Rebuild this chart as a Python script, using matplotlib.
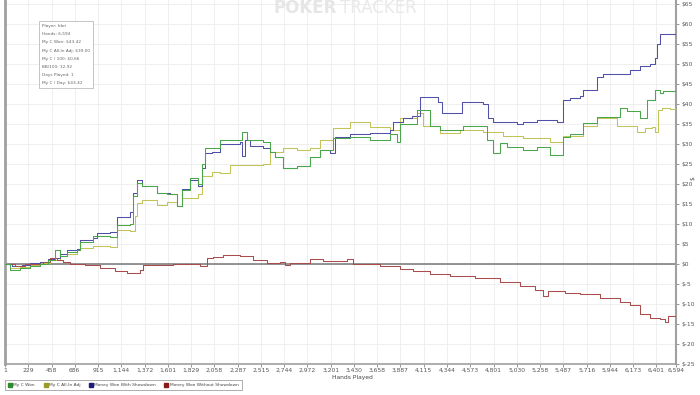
import matplotlib
matplotlib.use('Agg')
import matplotlib.pyplot as plt
from matplotlib.lines import Line2D

# hands played / cumulative $ for each series
won_hands = [1, 50, 148, 247, 345, 424, 492, 541, 610, 708, 738, 866, 1033, 1101, 1229, 1259, 1298, 1347,
             1495, 1593, 1691, 1740, 1819, 1897, 1937, 1966, 2035, 2114, 2310, 2330, 2379, 2536, 2605, 2654,
             2733, 2870, 2998, 3096, 3224, 3391, 3588, 3784, 3853, 3882, 4049, 4177, 4275, 4501, 4737, 4796,
             4865, 4934, 5091, 5228, 5356, 5484, 5553, 5680, 5818, 6044, 6113, 6241, 6309, 6388, 6437, 6467, 6594]
won_vals = [0, -1.5, -1, -0.5, 0, 1, 3.5, 2, 3, 3.5, 5.5, 7, 6.75, 9.75, 10, 17, 20.25, 19.5,
            17.75, 17.5, 14.5, 18.5, 21.5, 20, 25, 29, 29, 31, 31, 33, 31, 30.5, 28, 26.75,
            24, 24.5, 26.75, 28.5, 31.5, 31.75, 31, 32.5, 30.5, 35, 38.5, 34.5, 33.5, 34.5, 31, 27.75,
            30.25, 29.25, 28.5, 29.25, 27.25, 31.75, 32.5, 35.25, 36.75, 39, 38.25, 36.5, 41, 43.5, 42.75, 43.25, 43.42]

adj_hands = [1, 50, 148, 247, 345, 443, 541, 610, 708, 738, 866, 1033, 1101, 1229, 1278, 1298, 1347, 1495,
             1593, 1691, 1740, 1897, 1937, 2035, 2114, 2212, 2536, 2605, 2733, 2870, 2998, 3096, 3224, 3391,
             3588, 3784, 3882, 4049, 4108, 4275, 4472, 4698, 4894, 5091, 5356, 5484, 5680, 5818, 6015, 6211,
             6290, 6358, 6388, 6417, 6457, 6535, 6594]
adj_vals = [0, -1, -0.8, -0.3, 0.3, 1, 2, 2.5, 3.5, 4, 4.5, 4.25, 8.5, 8.25, 12, 15.25, 16, 14.75,
            15.5, 14.5, 16.5, 17.5, 22, 23, 22.75, 24.75, 25, 28, 29, 28.5, 29, 31, 34, 35.5,
            34.25, 33.5, 36.5, 37.75, 34.5, 32.75, 33.5, 33, 32, 31.5, 30.5, 32, 34.5, 36.5, 34.5, 33,
            34, 34.25, 33, 38.5, 39, 38.75, 39.0]

sd_hands = [1, 70, 168, 247, 345, 424, 492, 541, 610, 708, 738, 866, 905, 1033, 1101, 1229, 1259, 1298,
            1347, 1495, 1622, 1691, 1740, 1819, 1897, 1937, 1966, 2035, 2114, 2310, 2330, 2359, 2408, 2536,
            2605, 2654, 2733, 2870, 2998, 3096, 3194, 3244, 3391, 3588, 3784, 3814, 3912, 4000, 4079, 4256,
            4295, 4492, 4698, 4747, 4796, 5032, 5091, 5228, 5425, 5484, 5553, 5651, 5680, 5818, 5877, 6142,
            6241, 6339, 6388, 6408, 6437, 6486, 6594]
sd_vals = [0, -0.5, -0.3, 0.3, 0.5, 1.2, 1.5, 2.5, 3.5, 3.8, 6, 6.5, 7.75, 8, 11.75, 13, 17.75, 21,
           19.5, 17.75, 17.5, 14.5, 18.75, 21, 19.5, 24, 27.75, 28, 30, 30.5, 27, 31, 29.5, 29,
           28, 26.75, 24, 24.5, 26.75, 28.5, 27.75, 31.75, 32.5, 32.75, 33.5, 35.5, 36.5, 37, 41.75, 40.5,
           37.75, 40.5, 40, 36.5, 35.5, 35, 35.5, 36, 35.5, 41, 41.5, 42, 43.5, 46.75, 47.5, 48.5,
           49.5, 50, 51.5, 55, 57.5, 57.5, 57]

nsd_hands = [1, 99, 198, 374, 443, 512, 571, 640, 787, 934, 1082, 1200, 1328, 1357, 1652, 1917, 1986, 2045,
             2143, 2310, 2438, 2575, 2703, 2752, 2801, 2998, 3126, 3361, 3420, 3686, 3882, 4010, 4177, 4374,
             4619, 4865, 5061, 5209, 5287, 5337, 5504, 5651, 5847, 6044, 6142, 6241, 6339, 6437, 6486, 6516, 6594]
nsd_vals = [0, -0.5, 0, 0.5, 1.5, 1, 0.5, 0, -0.3, -1, -1.8, -2.25, -1.5, -0.3, 0, -0.5, 1.5, 1.75,
            2.25, 2, 1, 0.25, 0.5, -0.25, 0.25, 1.25, 0.75, 1.25, 0, -0.5, -1.2, -1.8, -2.5, -3,
            -3.5, -4.5, -5.5, -6.5, -8, -6.75, -7.25, -7.5, -8.5, -9.5, -10.25, -12.5, -13.5, -13.75, -14.5, -13, -13.58]

x_ticks = [1, 229, 458, 686, 915, 1144, 1372, 1601, 1829, 2058, 2287, 2515, 2744, 2972, 3201, 3430,
           3658, 3887, 4115, 4344, 4573, 4801, 5030, 5258, 5487, 5716, 5944, 6173, 6401, 6594]
y_ticks = list(range(-25, 70, 5))

info_lines = ['Player: hbri', 'Hands: 6,594', 'My C Won: $43.42', 'My C All-In Adj: $39.00',
              'My C / 100: $0.66', 'BB/100: 32.92', 'Days Played: 1', 'My C / Day: $43.42']

c_won = '#4aa64a'
c_adj = '#c2c45a'
c_sd = '#5050a8'
c_nsd = '#a84c4c'

fig = plt.figure(figsize=(7, 3.95), dpi=100)
ax = fig.add_axes([5 / 700, 31 / 395, 671 / 700, 364 / 395])

ax.plot(won_hands, won_vals, color=c_won, lw=0.75, drawstyle='steps-post', zorder=4)
ax.plot(adj_hands, adj_vals, color=c_adj, lw=0.75, drawstyle='steps-post', zorder=3)
ax.plot(sd_hands, sd_vals, color=c_sd, lw=0.75, drawstyle='steps-post', zorder=3)
ax.plot(nsd_hands, nsd_vals, color=c_nsd, lw=0.75, drawstyle='steps-post', zorder=3)
ax.axhline(0, color='#808080', lw=1.2, zorder=2)

ax.set_xlim(1, 6594)
ax.set_ylim(-25, 66)
ax.set_xticks(x_ticks)
ax.set_xticklabels([f'{t:,}' for t in x_ticks], fontsize=4.3, color='#555555')
ax.set_yticks(y_ticks)
ax.set_yticklabels([f'${t}' for t in y_ticks], fontsize=4.3, color='#555555')
ax.yaxis.tick_right()
ax.tick_params(axis='y', length=2.5, width=0.6, color='#888888', pad=1.5)
ax.tick_params(axis='x', length=2, width=0.6, color='#888888', pad=1)
ax.grid(True, color='#ececec', lw=0.6)
ax.set_axisbelow(True)

for side in ['left', 'right', 'bottom']:
    ax.spines[side].set_color('#a0a0a0')
ax.spines['left'].set_linewidth(2)
ax.spines['right'].set_linewidth(1.5)
ax.spines['bottom'].set_linewidth(1.2)
ax.spines['top'].set_visible(False)

fig.text(352 / 700, 1 - 378 / 395, 'Hands Played', fontsize=4.3, color='#444444', ha='center', va='center')
fig.text(693 / 700, 1 - 178 / 395, '$', fontsize=4.3, color='#444444', ha='center', va='center', rotation=90)

# watermark
fig.text(337 / 700, 1 - 8 / 395, 'POKER', fontsize=12, fontweight='bold', color='#e6e6e6', ha='right', va='center')
fig.text(340 / 700, 1 - 8 / 395, 'TRACKER', fontsize=12, color='#e9e9e9', ha='left', va='center')

# info box
ax.text(37 / 671, 1 - 24 / 364, '\n'.join(info_lines), transform=ax.transAxes, fontsize=3.1, color='#666666',
        va='top', ha='left', linespacing=2.4,
        bbox=dict(boxstyle='square,pad=0.6', fc='white', ec='#bbbbbb', lw=0.6))

handles = [Line2D([], [], marker='s', ls='none', ms=3, color=c) for c in ['#2e8b2e', '#9a9a28', '#1c1c80', '#8b1a1a']]
labels = ['My C Won', 'My C All-In Adj', 'Money Won With Showdown', 'Money Won Without Showdown']
leg = fig.legend(handles, labels, loc='center left', bbox_to_anchor=(3 / 700, 1 - 385 / 395), ncol=4,
                 fontsize=3.2, frameon=True, fancybox=False, edgecolor='#888888', handletextpad=0.3,
                 columnspacing=2.0, borderpad=0.7, handlelength=0.8)
leg.get_frame().set_linewidth(0.6)
for t in leg.get_texts():
    t.set_color('#444444')

fig.savefig('out.png', dpi=100)
